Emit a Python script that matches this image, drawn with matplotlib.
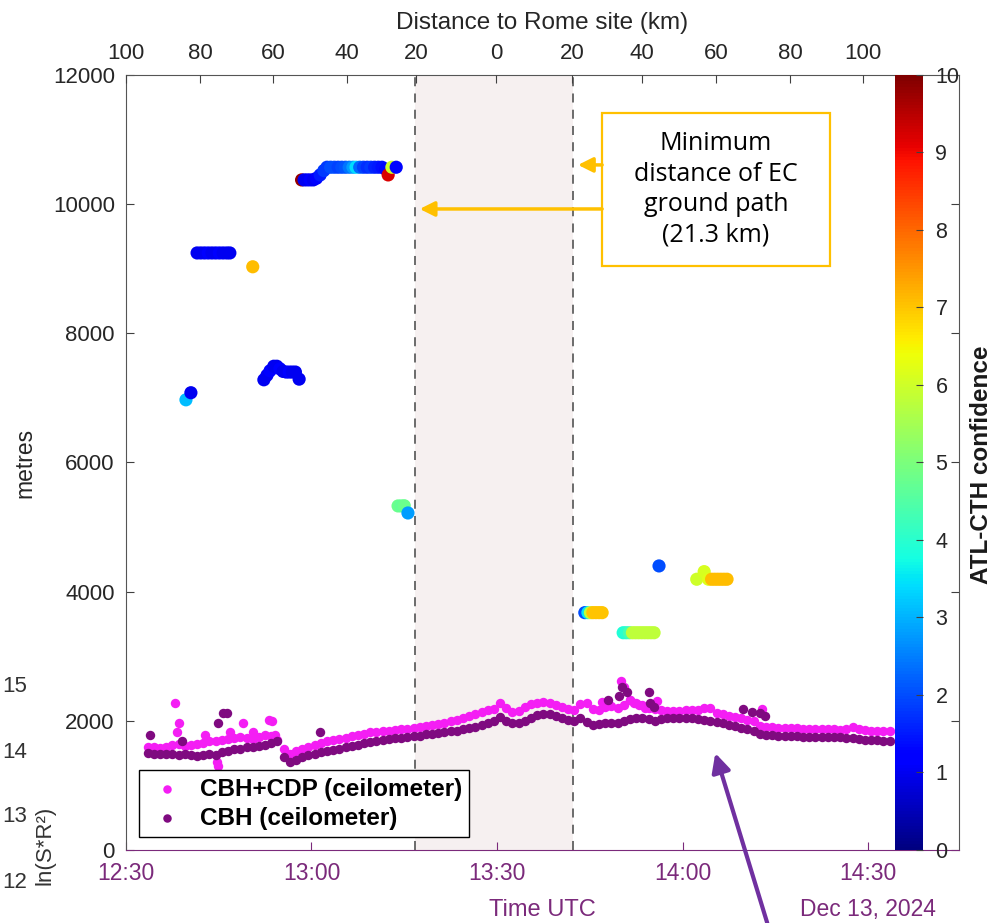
import numpy as np
import matplotlib.pyplot as plt
from matplotlib.patches import Rectangle
from matplotlib.colors import Normalize
from matplotlib.cm import ScalarMappable

plt.rcParams['font.family'] = ['Liberation Sans', 'DejaVu Sans']

# minutes after 12:30 UTC
time_ticks = [0, 30, 60, 90, 120]
time_labels = ['12:30', '13:00', '13:30', '14:00', '14:30']

# top axis: distance along the ground track to the Rome site
dist_tick_min = [0, 11.97, 23.77, 35.74, 46.9, 59.84, 72.13, 83.45, 95.42, 107.39, 119.2]
dist_tick_lab = ['100', '80', '60', '40', '20', '0', '20', '40', '60', '80', '100']

# closest approach window (21.3 km)
band_min = [46.8, 72.3]

# ceilometer, one sample per minute starting at 12:33:30
ceil_start = 3.5
cbh_cdp = [1600, 1590, 1580, 1590, 1620, 1640, 1610, 1620, 1640, 1660,
           1680, 1690, 1700, 1720, 1730, 1750, 1730, 1720, 1750, 1780,
           1760, 1700, 1560, 1480, 1530, 1570, 1600, 1620, 1650, 1680,
           1700, 1720, 1740, 1760, 1780, 1800, 1820, 1830, 1840, 1850,
           1860, 1870, 1880, 1890, 1905, 1920, 1940, 1955, 1970, 1990,
           2010, 2040, 2070, 2100, 2130, 2160, 2190, 2270, 2200, 2140,
           2150, 2220, 2260, 2280, 2290, 2270, 2240, 2210, 2180, 2170,
           2260, 2280, 2180, 2170, 2220, 2230, 2200, 2250, 2330, 2280,
           2250, 2200, 2180, 2160, 2150, 2150, 2150, 2160, 2160, 2170,
           2200, 2200, 2120, 2100, 2080, 2060, 2040, 2020, 2000, 1920,
           1900, 1900, 1895, 1890, 1890, 1885, 1880, 1880, 1875, 1875,
           1870, 1870, 1865, 1880, 1900, 1880, 1860, 1850, 1850, 1845,
           1840]
cbh = [1500, 1490, 1480, 1480, 1490, 1470, 1480, 1470, 1460, 1470,
       1480, 1470, 1520, 1540, 1560, 1570, 1590, 1600, 1610, 1630,
       1660, 1680, 1440, 1370, 1400, 1440, 1470, 1490, 1510, 1530,
       1550, 1570, 1590, 1610, 1630, 1650, 1670, 1690, 1700, 1720,
       1730, 1740, 1750, 1760, 1770, 1790, 1800, 1810, 1820, 1835,
       1850, 1870, 1890, 1910, 1930, 1960, 2000, 2060, 2000, 1970,
       1960, 1990, 2050, 2090, 2110, 2100, 2070, 2040, 2010, 2000,
       2050, 1980, 1940, 1950, 1960, 1960, 1970, 2000, 2030, 2040,
       2050, 2030, 1990, 2030, 2040, 2040, 2050, 2050, 2040, 2030,
       2010, 1990, 1980, 1970, 1940, 1920, 1890, 1870, 1840, 1800,
       1780, 1775, 1770, 1765, 1760, 1760, 1755, 1755, 1750, 1750,
       1750, 1745, 1745, 1740, 1730, 1720, 1710, 1700, 1700, 1695,
       1690]

# isolated ceilometer returns
cdp_extra_min = [8.0, 8.6, 8.3, 12.8, 14.7, 14.9, 16.8, 19.0, 20.6, 23.1, 23.6, 24.1,
                 77.0, 80.1, 80.6, 81.5, 82.2, 83.0, 83.9, 85.8, 102.8]
cdp_extra_h = [2280, 1960, 1830, 1780, 1360, 1300, 1830, 1960, 1830, 2010, 1990, 1780,
               2290, 2620, 2530, 2320, 2280, 2240, 2200, 2300, 2190]
cbh_extra_min = [3.9, 9.0, 14.9, 15.7, 16.3, 31.4,
                 78.0, 79.8, 80.2, 81.0, 84.6, 84.8, 85.4, 99.7, 101.2, 102.5, 103.3]
cbh_extra_h = [1780, 1680, 1960, 2120, 2120, 1820,
               2320, 2390, 2530, 2450, 2440, 2270, 2220, 2190, 2140, 2120, 2080]

# ATLID cloud top height and its confidence
atl_min = [9.7, 10.5,
           11.5, 12.1, 12.7, 13.3, 13.9, 14.5, 15.1, 15.7, 16.3, 16.8,
           20.5,
           22.3, 22.8, 23.3, 23.9, 24.4, 24.9, 25.4, 25.9, 26.4, 26.9, 27.4, 28.0,
           28.4, 28.8, 29.3, 29.8, 30.3, 30.8, 31.4, 32.0, 32.5, 33.1, 33.7, 34.3,
           34.9, 35.5, 36.1, 36.7, 37.2, 37.8, 38.4, 39.0, 39.6, 40.2, 40.8, 41.4,
           42.0, 42.4, 43.0, 43.7,
           44.0, 44.5, 45.0, 45.6,
           74.2, 74.7, 75.1, 75.5, 76.0, 76.5, 77.0,
           80.4, 80.9, 81.4, 81.9, 82.4, 82.9, 83.4, 83.9, 84.4, 84.9, 85.4,
           86.2,
           92.3, 93.5, 94.2, 94.7, 95.2, 95.7, 96.2, 96.7, 97.2]
atl_h = [6970, 7080,
         9244, 9244, 9244, 9244, 9244, 9244, 9244, 9244, 9244, 9244,
         9030,
         7280, 7350, 7420, 7490, 7490, 7450, 7410, 7400, 7400, 7400, 7400, 7290,
         10375, 10375, 10375, 10375, 10375, 10400, 10452, 10520, 10571, 10571, 10571, 10571,
         10571, 10571, 10571, 10571, 10571, 10571, 10571, 10571, 10571, 10571, 10571, 10571,
         10540, 10452, 10571, 10571,
         5327, 5327, 5330, 5218,
         3675, 3675, 3675, 3675, 3675, 3675, 3675,
         3364, 3364, 3364, 3364, 3364, 3364, 3364, 3364, 3364, 3364, 3364,
         4398,
         4192, 4310, 4192, 4192, 4192, 4192, 4192, 4192, 4192]
atl_conf = [3.1, 1.0,
            1.0, 1.0, 1.0, 1.1, 1.0, 1.0, 1.1, 1.0, 1.0, 1.0,
            7.1,
            1.0, 1.0, 1.1, 1.0, 1.0, 1.1, 1.0, 1.0, 1.1, 1.0, 1.0, 1.0,
            9.8, 1.0, 1.0, 1.1, 1.0, 1.2, 1.5, 1.8, 1.8, 2.0, 2.0, 1.9,
            2.0, 2.1, 2.4, 2.8, 3.4, 2.3, 1.9, 1.7, 1.8, 1.6, 1.5, 1.4,
            1.3, 9.2, 6.0, 1.3,
            4.8, 4.7, 4.8, 2.8,
            2.0, 3.5, 5.8, 7.0, 7.0, 7.0, 7.0,
            3.9, 4.0, 4.3, 5.8, 5.8, 5.8, 5.8, 5.8, 5.8, 5.8, 5.8,
            2.0,
            6.0, 6.1, 6.2, 7.1, 7.1, 7.1, 7.1, 7.1, 7.1]

MAG = '#f41ef4'
DPURPLE = '#7f0a80'
AXPURPLE = '#7b2a7b'
GOLD = '#ffc000'
GREY = '#404040'

ceil_min = ceil_start + np.arange(len(cbh_cdp))

fig = plt.figure(figsize=(9.99, 9.23), dpi=100)
ax = fig.add_axes([0.1261, 0.0791, 0.8338, 0.8397])
ax.set_xlim(0, 134.7)
ax.set_ylim(0, 12000)

ax.axvspan(band_min[0], band_min[1], color='#f6f0f0', zorder=0, lw=0)
for t in band_min:
    ax.axvline(t, color='#606060', ls=(0, (5, 4)), lw=1.3, zorder=1)

h1 = ax.scatter(np.concatenate([ceil_min, cdp_extra_min]), np.concatenate([cbh_cdp, cdp_extra_h]),
                s=46, c=MAG, lw=0, zorder=2, label='CBH+CDP (ceilometer)')
h2 = ax.scatter(np.concatenate([ceil_min, cbh_extra_min]), np.concatenate([cbh, cbh_extra_h]),
                s=46, c=DPURPLE, lw=0, zorder=3, label='CBH (ceilometer)')
sc = ax.scatter(atl_min, atl_h, s=90, c=atl_conf, cmap='jet', vmin=0, vmax=10, lw=0, zorder=4)

leg = ax.legend(handles=[h1, h2], loc='lower left', bbox_to_anchor=(0.0156, 0.0168),
                borderaxespad=0, prop={'weight': 'bold', 'size': 17.5}, frameon=True,
                fancybox=False, edgecolor='black', framealpha=1, markerscale=0.9,
                handletextpad=0.5, labelspacing=0.25, borderpad=0.3, handlelength=1.7)
leg.get_frame().set_linewidth(1.0)
leg.set_zorder(6)

# axes styling
ax.set_xticks(time_ticks, time_labels)
ax.set_yticks(range(0, 12001, 2000))
ax.tick_params(axis='both', direction='in', length=6, width=0.8, labelsize=16,
               top=True, right=True, color=GREY)
ax.tick_params(axis='x', colors=AXPURPLE, labelcolor=AXPURPLE, pad=9, labelsize=16.5)
ax.tick_params(axis='y', labelcolor='#262626', pad=8)
for side in ['left', 'right', 'top']:
    ax.spines[side].set_color('#555555')
ax.spines['bottom'].set_color(AXPURPLE)
ax.set_ylabel('metres', fontsize=16.5, color='#262626', labelpad=12)
ax.text(0.5, -0.077, 'Time UTC', transform=ax.transAxes, ha='center', va='center',
        fontsize=17, color=AXPURPLE)
ax.text(120, -0.077, 'Dec 13, 2024', transform=ax.get_xaxis_transform(), ha='center',
        va='center', fontsize=16.5, color=AXPURPLE)

ax2 = ax.twiny()
ax2.set_xlim(ax.get_xlim())
ax2.set_xticks(dist_tick_min, dist_tick_lab)
ax2.tick_params(axis='x', direction='in', length=6, width=0.8, labelsize=16,
                color=GREY, labelcolor='#262626', pad=8)
for s in ax2.spines.values():
    s.set_visible(False)
ax2.set_xlabel('Distance to Rome site (km)', fontsize=17.5, color='#262626', labelpad=10)

# note box with arrows to the closest-approach lines
ax.add_patch(Rectangle((77.0, 9043), 36.9, 2369, facecolor='white', edgecolor=GOLD,
                       lw=1.6, zorder=7))
ax.text(95.4, 10228, 'Minimum\ndistance of EC\nground path\n(21.3 km)', ha='center',
        va='center', fontsize=18, family=['Open Sans', 'DejaVu Sans'], color='black',
        linespacing=1.3, zorder=8)
for tip, y in [(47.5, 9925), (73.1, 10607)]:
    ax.annotate('', xy=(tip, y), xytext=(77.0, y),
                arrowprops=dict(arrowstyle='-|>', color=GOLD, lw=2.5, mutation_scale=22,
                                shrinkA=0, shrinkB=0), zorder=8)

ax.annotate('', xy=(95.3, 1500), xytext=(103.7, -1130), annotation_clip=False,
            arrowprops=dict(arrowstyle='-|>', color='#7030a0', lw=3, mutation_scale=28,
                            shrinkA=0, shrinkB=0), zorder=8)

# colorbar drawn inside the frame on the right
cax = fig.add_axes([895 / 999, 0.0791, 28 / 999, 0.8397])
cb = fig.colorbar(ScalarMappable(norm=Normalize(0, 10), cmap='jet'), cax=cax)
cb.set_ticks(range(11))
cb.outline.set_visible(False)
cax.tick_params(direction='in', length=5, width=0.8, color=GREY, labelsize=15.5,
                labelcolor='#262626', pad=9)
fig.text(982 / 999, 1 - 465 / 923, 'ATL-CTH confidence', rotation=90, ha='center',
         va='center', fontsize=17.5, fontweight='bold', color='#1a1a1a')

# axis labels of the panel underneath
for lab, yp in [('15', 687), ('14', 752), ('13', 817), ('12', 882)]:
    fig.text(2 / 999, 1 - yp / 923, lab, ha='left', va='center', fontsize=16, color='#333333')
fig.text(45 / 999, 1 - 845 / 923, 'ln(S*R²)', rotation=90, ha='center', va='center',
         fontsize=16, color='#333333')

fig.savefig('out.png', dpi=100)
